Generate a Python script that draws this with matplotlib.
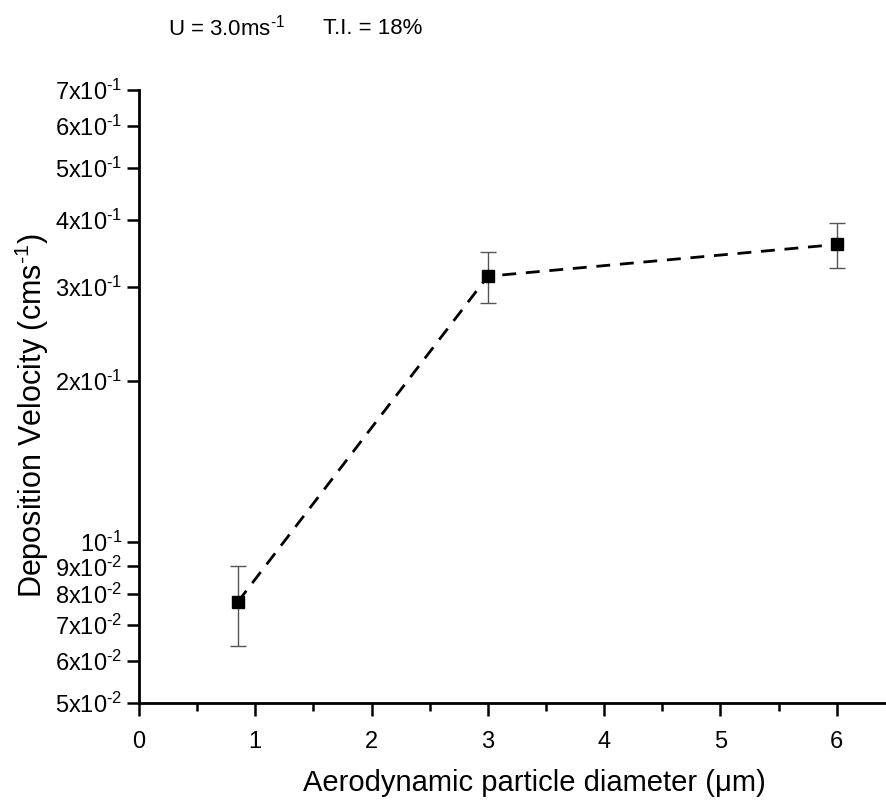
import matplotlib
matplotlib.use("Agg")
import matplotlib.pyplot as plt
from matplotlib.ticker import FixedLocator, FixedFormatter, NullLocator

plt.rcParams['font.family'] = ['Liberation Sans', 'DejaVu Sans']
plt.rcParams['mathtext.fontset'] = 'custom'
plt.rcParams['mathtext.rm'] = 'Liberation Sans'
plt.rcParams['mathtext.it'] = 'Liberation Sans:italic'
plt.rcParams['mathtext.default'] = 'regular'

# data
diameters = [0.85, 3.0, 6.0]
velocity = [0.0773, 0.314, 0.360]
err_low = [0.0639, 0.280, 0.325]
err_high = [0.0902, 0.348, 0.395]

y_ticks = [0.05, 0.06, 0.07, 0.08, 0.09, 0.1, 0.2, 0.3, 0.4, 0.5, 0.6, 0.7]
y_labels = ['5x10$^{\\text{-}2}$', '6x10$^{\\text{-}2}$', '7x10$^{\\text{-}2}$',
            '8x10$^{\\text{-}2}$', '9x10$^{\\text{-}2}$', '10$^{\\text{-}1}$',
            '2x10$^{\\text{-}1}$', '3x10$^{\\text{-}1}$', '4x10$^{\\text{-}1}$',
            '5x10$^{\\text{-}1}$', '6x10$^{\\text{-}1}$', '7x10$^{\\text{-}1}$']
x_ticks = [0, 1, 2, 3, 4, 5, 6]

fig = plt.figure(figsize=(8.87, 8.0), dpi=100)
ax = fig.add_axes([139/887, 1-703/800, (885-139)/887, (703-90)/800])

yerr = [[v - l for v, l in zip(velocity, err_low)], [h - v for v, h in zip(velocity, err_high)]]
ax.errorbar(diameters, velocity, yerr=yerr, fmt='none', ecolor='#555555', elinewidth=1.0,
            capsize=5.5, capthick=1.0, zorder=2)
ax.plot(diameters, velocity, linestyle=(0, (5, 3.5)), color='black', linewidth=2.0, zorder=3)
ax.plot(diameters, velocity, linestyle='none', marker='s', markersize=9, color='black', zorder=4)

ax.set_yscale('log')
ax.set_ylim(0.05, 0.7)
ax.set_xlim(0, (885-139)/116.3)
ax.yaxis.set_major_locator(FixedLocator(y_ticks))
ax.yaxis.set_major_formatter(FixedFormatter(y_labels))
ax.yaxis.set_minor_locator(NullLocator())
ax.set_xticks(x_ticks)
ax.set_xticks([0.5, 1.5, 2.5, 3.5, 4.5, 5.5], minor=True)

for s in ['top', 'right']:
    ax.spines[s].set_visible(False)
for s in ['left', 'bottom']:
    ax.spines[s].set_linewidth(2.0)

ax.tick_params(axis='both', which='major', direction='out', length=9, width=1.8, labelsize=17)
ax.tick_params(axis='x', which='minor', direction='out', length=6, width=1.8)
ax.tick_params(axis='x', pad=11)
ax.tick_params(axis='y', pad=3)

ax.set_xlabel('Aerodynamic particle diameter (\u03bcm)', fontsize=21, labelpad=12)
ax.set_ylabel('Deposition Velocity (cms$^{\\text{-}1}$)', fontsize=22, labelpad=3)
ax.xaxis.label.set_x((534 - 139) / 746)
ax.yaxis.label.set_y((703 - 416) / 613)

fig.text(168/887, 1-28/800, 'U = 3.0ms$^{\\text{-}1}$', fontsize=16, va='center', ha='left')
fig.text(323/887, 1-28/800, 'T.I. = 18%', fontsize=16, va='center', ha='left')

fig.savefig('out.png', dpi=100)
